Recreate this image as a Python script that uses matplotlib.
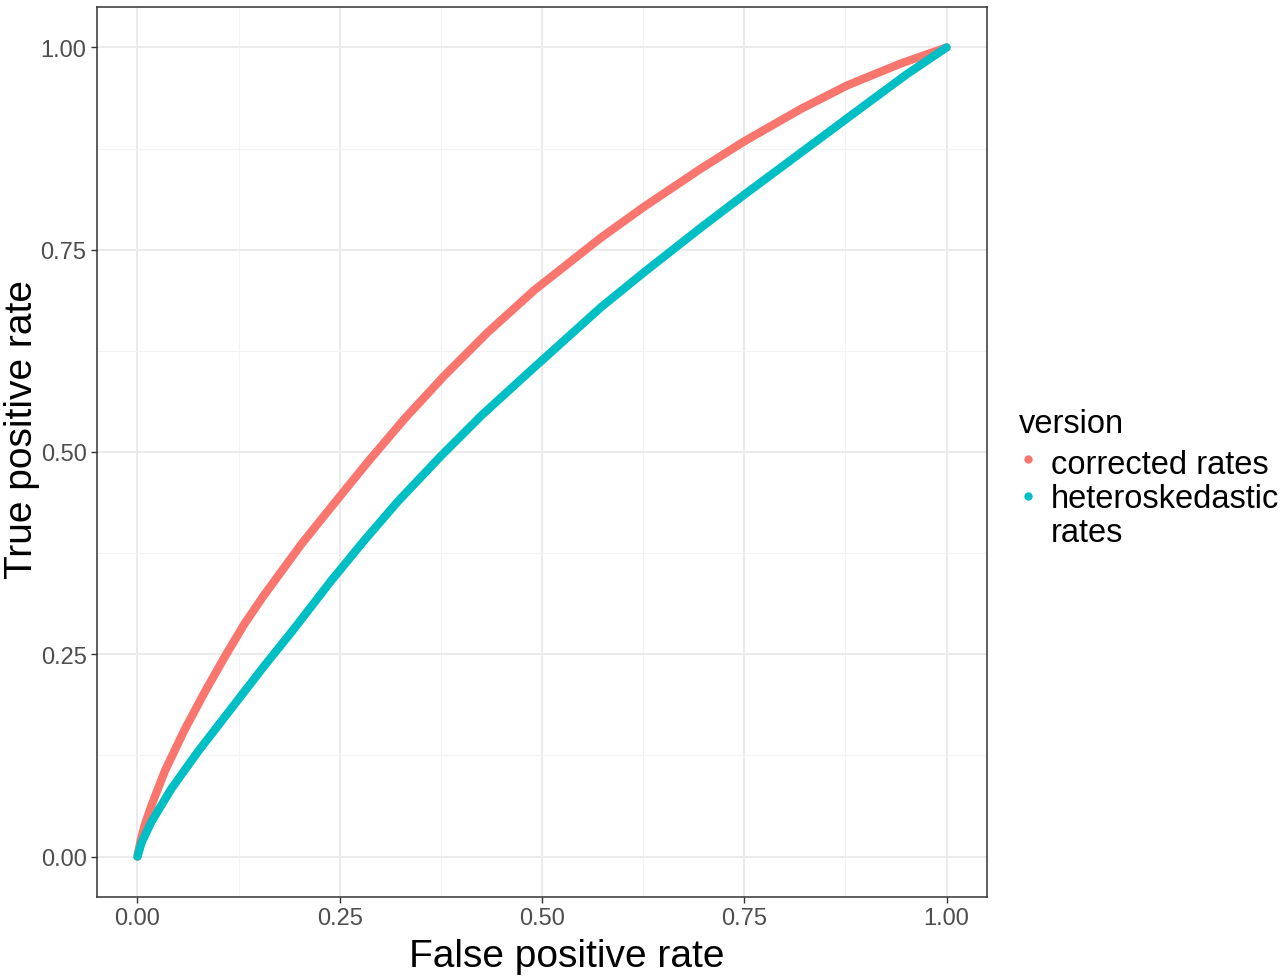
import matplotlib.pyplot as plt
from matplotlib.lines import Line2D

plt.rcParams['font.family'] = ['Liberation Sans', 'DejaVu Sans']

# points
fpr_corrected = [0.0, 0.004, 0.009, 0.0173, 0.034, 0.0584, 0.083, 0.108, 0.1325, 0.155,
                 0.2025, 0.2395, 0.285, 0.330, 0.379, 0.433, 0.4905, 0.573, 0.626,
                 0.696, 0.75, 0.82, 0.877, 0.943, 1.0]
tpr_corrected = [0.0, 0.020, 0.039, 0.063, 0.106, 0.157, 0.203, 0.247, 0.288, 0.321,
                 0.386, 0.432, 0.488, 0.541, 0.594, 0.648, 0.700, 0.765, 0.803,
                 0.850, 0.884, 0.924, 0.953, 0.980, 1.0]

fpr_hetero = [0.0, 0.005, 0.0173, 0.042, 0.075, 0.116, 0.157, 0.190, 0.221, 0.2395,
              0.2806, 0.322, 0.375, 0.425, 0.482, 0.573, 0.626, 0.696, 0.75, 0.82,
              0.89, 0.951, 1.0]
tpr_hetero = [0.0, 0.017, 0.043, 0.084, 0.130, 0.183, 0.236, 0.277, 0.317, 0.341,
              0.391, 0.439, 0.495, 0.545, 0.597, 0.679, 0.722, 0.777, 0.818, 0.870,
              0.922, 0.967, 1.0]

series_names = ['corrected rates', 'heteroskedastic\nrates']
colors = ['#F8766D', '#00BFC4']
ticks = [0.0, 0.25, 0.5, 0.75, 1.0]
tick_labels = ['0.00', '0.25', '0.50', '0.75', '1.00']

W, H = 1280, 978
fig = plt.figure(figsize=(W / 100, H / 100), dpi=100)
ax = fig.add_axes([97 / W, 1 - 898 / H, 890 / W, 890 / H])

ax.plot(fpr_hetero, tpr_hetero, color=colors[1], lw=6, solid_capstyle='round',
        solid_joinstyle='round', zorder=3)
ax.plot(fpr_corrected, tpr_corrected, color=colors[0], lw=6, solid_capstyle='round',
        solid_joinstyle='round', zorder=2)

ax.set_xlim(-0.05, 1.05)
ax.set_ylim(-0.05, 1.05)
ax.set_xticks(ticks)
ax.set_xticklabels(tick_labels)
ax.set_yticks(ticks)
ax.set_yticklabels(tick_labels)
ax.set_xticks([0.125, 0.375, 0.625, 0.875], minor=True)
ax.set_yticks([0.125, 0.375, 0.625, 0.875], minor=True)
ax.grid(which='major', color='#EBEBEB', lw=1.4)
ax.grid(which='minor', color='#F3F3F3', lw=0.8)
ax.set_axisbelow(True)
ax.tick_params(which='major', length=4.5, width=1, color='#333333',
               labelcolor='#4D4D4D', labelsize=17, pad=3)
ax.tick_params(which='minor', length=0)
for s in ax.spines.values():
    s.set_color('#333333')
    s.set_linewidth(1.1)

ax.set_xlabel('False positive rate', fontsize=28, va='baseline')
ax.xaxis.set_label_coords((567 - 97) / 890, (898 - 967) / 890)
ax.set_ylabel('True positive rate', fontsize=28, va='baseline', rotation_mode='anchor')
ax.yaxis.set_label_coords((32 - 97) / 890, (898 - 430) / 890)

# legend, drawn by hand to get the tight ggplot spacing
fs = 23.5
fig.text(1019 / W, 1 - 433 / H, 'version', fontsize=fs, va='baseline', ha='left')
baselines = [[474], [508, 542]]
for name, ys in zip(series_names, baselines):
    for line, yy in zip(name.split('\n'), ys):
        fig.text(1051 / W, 1 - yy / H, line, fontsize=fs, va='baseline', ha='left')
for c, yy in zip(colors, [460, 497]):
    fig.add_artist(Line2D([1028 / W], [1 - yy / H], ls='none', marker='o', ms=5,
                          color=c, transform=fig.transFigure))

fig.savefig('out.png', dpi=100)
